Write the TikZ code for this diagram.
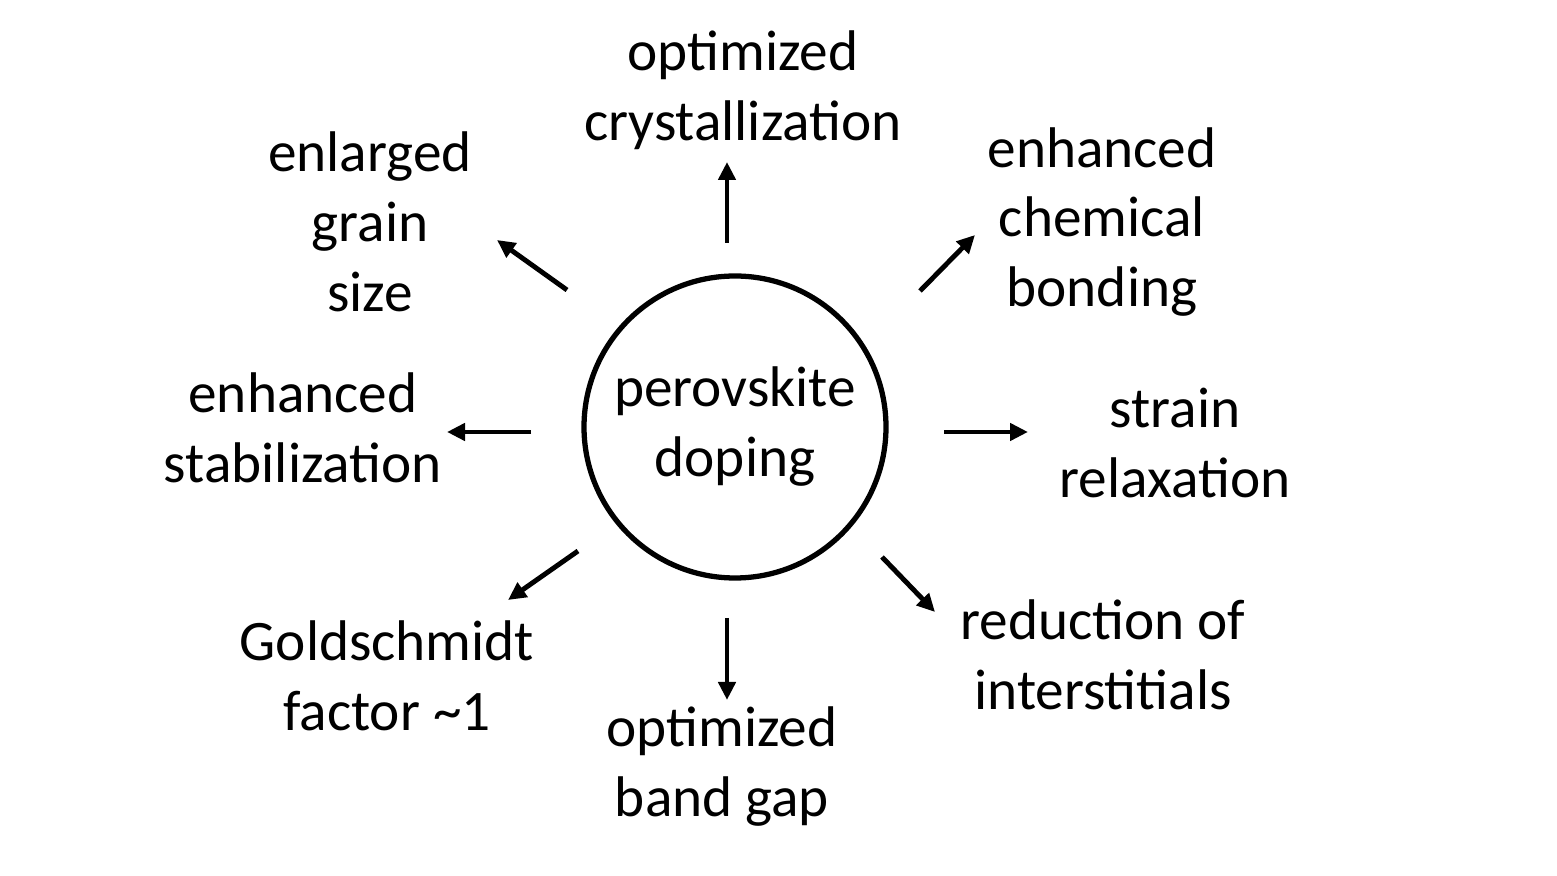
\documentclass[tikz,border=0pt]{standalone}
\usepackage{fontspec}
\setmainfont{Carlito}
\usepackage{tikz}
\usetikzlibrary{positioning,calc,arrows.meta}

\tikzset{
    effect/.style={align=center,font=\fontsize{32.6}{39.8}\selectfont},
    arrow/.style={-{Triangle[length=0.36cm,width=0.34cm]},line width=2.8pt}
}

\begin{document}
\begin{tikzpicture}
        \useasboundingbox (0,0) rectangle (31.14,17.52);

        % central circle
        \node[effect,circle,draw,line width=3pt,minimum size=6.04cm,inner sep=0pt] (doping) at (14.70,8.98) {perovskite\\doping};

        % effects of doping
        \node[effect] (cryst) at (14.86,15.72) {optimized\\crystallization};
        \node[effect] (grain) at (7.40,13.08) {enlarged\\grain\\size};
        \node[effect] (bond) at (22.04,13.08) {enhanced\\chemical\\bonding};
        \node[effect] (stab) at (6.06,8.96) {enhanced\\stabilization};
        \node[effect] (strain) at (23.50,8.66) {strain\\relaxation};
        \node[effect] (gold) at (7.74,4.00) {Goldschmidt\\factor \char`~1};
        \node[effect] (gap) at (14.44,2.18) {optimized\\band gap};
        \node[effect] (inter) at (22.06,4.42) {reduction of\\interstitials};

        % arrows from the circle outwards
        \foreach \n/\xa/\ya/\xb/\yb in {
            up/14.54/12.66/14.54/14.28,
            ur/18.40/11.70/19.50/12.82,
            r/18.88/8.88/20.56/8.88,
            lr/17.64/6.38/18.70/5.28,
            d/14.54/5.16/14.54/3.52,
            ll/11.56/6.50/10.16/5.52,
            l/10.62/8.88/8.94/8.88,
            ul/11.34/11.72/9.94/12.72}
                \draw[arrow] (\xa,\ya) coordinate (\n-s) -- (\xb,\yb) coordinate (\n-e);

\end{tikzpicture}
\end{document}
